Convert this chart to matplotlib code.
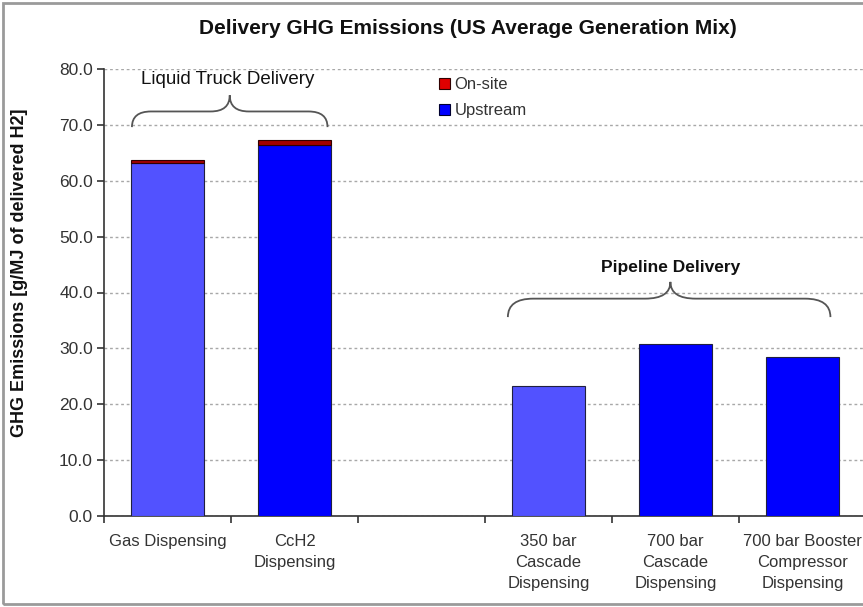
import matplotlib
matplotlib.use("Agg")
import matplotlib.pyplot as plt
from matplotlib.path import Path
from matplotlib.patches import PathPatch, Rectangle, Patch
from matplotlib.ticker import FormatStrFormatter, FixedLocator

plt.rcParams['font.family'] = ['Liberation Sans', 'DejaVu Sans']

categories = ["Gas Dispensing", "CcH2\nDispensing", "",
              "350 bar\nCascade\nDispensing", "700 bar\nCascade\nDispensing",
              "700 bar Booster\nCompressor\nDispensing"]
upstream = [63.1, 66.4, 0.0, 23.3, 30.8, 28.4]
onsite = [0.6, 0.9, 0.0, 0.0, 0.0, 0.0]
light_bars = [True, False, False, True, False, False]

title = "Delivery GHG Emissions (US Average Generation Mix)"
ylabel = "GHG Emissions [g/MJ of delivered H2]"
y_ticks = [0, 10, 20, 30, 40, 50, 60, 70, 80]

BLUE = "#0000FF"
LIGHT_BLUE = "#5252FF"
RED = "#E00000"
TEXT = "#333333"

fig = plt.figure(figsize=(8.63, 6.07), dpi=100)
ax = fig.add_axes([104 / 863, 91 / 607, 762 / 863, 447 / 607])

x = list(range(len(categories)))
up_colors = [LIGHT_BLUE if l else BLUE for l in light_bars]
bw = 0.58
for xi, u, o, c in zip(x, upstream, onsite, up_colors):
    if u <= 0:
        continue
    ax.bar(xi, u, width=bw, color=c, edgecolor="#202040", linewidth=0.8, zorder=3)
    if o > 0:
        ax.bar(xi, o, bottom=u, width=bw, color="#A00000", edgecolor="#300000",
               linewidth=0.8, zorder=3)

ax.set_xlim(-0.5, len(categories) - 0.5)
ax.set_ylim(0, 80)
ax.yaxis.set_major_locator(FixedLocator(y_ticks))
ax.yaxis.set_major_formatter(FormatStrFormatter("%.1f"))
ax.grid(axis="y", color="#A8A8A8", linestyle=(0, (2, 2)), linewidth=1.0, zorder=0)

ax.set_xticks(x)
ax.set_xticklabels(categories, fontsize=12, color=TEXT, linespacing=1.5)
ax.set_xticks([i + 0.5 for i in range(-1, len(categories))], minor=True)
ax.tick_params(axis="x", which="major", length=0, pad=13)
ax.tick_params(axis="x", which="minor", length=5, width=1.2, color="#333333", direction="out")
ax.tick_params(axis="y", length=5, width=1.2, color="#333333", direction="out",
               labelsize=12.5, labelcolor=TEXT, pad=3)
for lab in ax.get_xticklabels():
    lab.set_verticalalignment("top")

for s in ["top", "right"]:
    ax.spines[s].set_visible(False)
for s in ["left", "bottom"]:
    ax.spines[s].set_color("#333333")
    ax.spines[s].set_linewidth(1.2)

fig.text(20 / 863, 1 - 273 / 607, ylabel, rotation=90, ha="center", va="center",
         fontsize=13, fontweight="bold", color="#111111")

fig.text(468 / 863, 1 - 29 / 607, title, ha="center", va="center",
         fontsize=15, fontweight="bold", color="#111111",
         family=["Liberation Sans Narrow", "Liberation Sans", "DejaVu Sans"])


def brace(ax, x0, x1, xc, y_end, y_mid, y_peak, r):
    verts = [
        (x0, y_end), (x0, y_mid), (x0 + r, y_mid),
        (xc - r, y_mid), (xc, y_mid), (xc, y_peak),
        (xc, y_mid), (xc + r, y_mid),
        (x1 - r, y_mid), (x1, y_mid), (x1, y_end),
    ]
    codes = [Path.MOVETO, Path.CURVE3, Path.CURVE3,
             Path.LINETO, Path.CURVE3, Path.CURVE3,
             Path.CURVE3, Path.CURVE3,
             Path.LINETO, Path.CURVE3, Path.CURVE3]
    ax.add_patch(PathPatch(Path(verts, codes), facecolor="none", edgecolor="#555555",
                           linewidth=1.3, zorder=4, clip_on=False))


brace(ax, -0.28, 1.26, 0.49, 69.6, 72.4, 75.3, 0.15)
ax.text(0.47, 78.2, "Liquid Truck Delivery", ha="center", va="center",
        fontsize=13.5, color="#111111", zorder=5)

brace(ax, 2.68, 5.22, 3.96, 35.6, 38.9, 41.9, 0.2)
ax.text(3.96, 44.4, "Pipeline Delivery", ha="center", va="center",
        fontsize=12.5, fontweight="bold", color="#111111", zorder=5)

handles = [Patch(facecolor=RED, edgecolor="#300000", linewidth=0.8, label="On-site"),
           Patch(facecolor=BLUE, edgecolor="#000030", linewidth=0.8, label="Upstream")]
leg = ax.legend(handles=handles, loc="upper left",
                bbox_to_anchor=(426 / 863, 1 - 64 / 607), bbox_transform=fig.transFigure,
                frameon=True, fontsize=12, handlelength=0.65, handleheight=0.65,
                handletextpad=0.25, labelspacing=0.65, borderpad=0.3)
leg.get_frame().set_edgecolor("none")
leg.get_frame().set_facecolor("white")
leg.get_frame().set_alpha(1)
leg.set_zorder(6)
for t in leg.get_texts():
    t.set_color(TEXT)

fig.patches.append(Rectangle((3 / 863, 3 / 607), 1.0, 1 - 6 / 607,
                             transform=fig.transFigure, fill=False,
                             edgecolor="#9A9A9A", linewidth=2.0))

fig.savefig("out.png", dpi=100)
